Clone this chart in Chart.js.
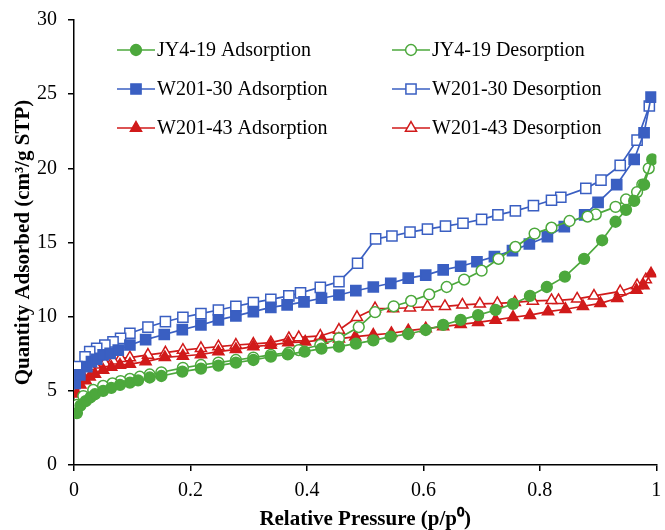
<!DOCTYPE html>
<html>
<head>
<meta charset="utf-8">
<script src="https://cdn.jsdelivr.net/npm/chart.js@4/dist/chart.umd.min.js"></script>
<style>
  html, body { margin: 0; padding: 0; background: #fff; }
  #wrap { width: 665px; height: 530px; position: relative; }
</style>
</head>
<body>
<div id="wrap"><canvas id="c" width="665" height="530"></canvas></div>
<script>
// ---- Data ----
const jyAdsX = [0.005,0.011,0.02,0.028,0.036,0.05,0.064,0.079,0.096,0.11,0.13,0.15,0.186,0.218,0.248,0.278,0.308,0.338,0.367,0.396,0.425,0.455,0.484,0.514,0.544,0.574,0.604,0.634,0.664,0.694,0.724,0.754,0.783,0.812,0.843,0.876,0.907,0.93,0.948,0.962,0.979,0.993];
const jyAdsY = [3.5,4.0,4.3,4.55,4.77,5.0,5.2,5.4,5.55,5.7,5.9,6.0,6.3,6.5,6.7,6.9,7.08,7.3,7.46,7.64,7.84,7.98,8.18,8.4,8.65,8.83,9.1,9.44,9.78,10.1,10.45,10.86,11.4,12.0,12.7,13.9,15.15,16.4,17.2,17.8,18.9,20.6];

const jyDesX = [0.987,0.976,0.967,0.948,0.93,0.896,0.882,0.851,0.82,0.791,0.758,0.729,0.7,0.67,0.64,0.61,0.579,0.549,0.517,0.489,0.455,0.423,0.386,0.369,0.338,0.308,0.278,0.248,0.218,0.187,0.15,0.13,0.113,0.096,0.08,0.066,0.05,0.033,0.016,0.005];
const jyDesY = [20.0,18.9,18.4,17.9,17.4,16.9,16.75,16.45,16.0,15.6,14.7,13.9,13.1,12.5,12.0,11.5,11.06,10.7,10.3,9.3,8.54,8.09,7.75,7.57,7.42,7.24,7.08,6.9,6.74,6.55,6.25,6.1,5.95,5.8,5.66,5.5,5.33,5.06,4.65,4.05];

const wAdsX = [0.002,0.01,0.022,0.03,0.039,0.05,0.062,0.076,0.096,0.123,0.155,0.186,0.218,0.248,0.278,0.308,0.338,0.366,0.395,0.425,0.455,0.484,0.514,0.544,0.574,0.604,0.634,0.664,0.692,0.722,0.753,0.782,0.813,0.842,0.877,0.9,0.932,0.962,0.979,0.991];
const wAdsY = [5.5,6.07,6.63,6.97,7.13,7.42,7.53,7.75,8.09,8.45,8.8,9.13,9.44,9.78,10.05,10.34,10.63,10.8,11.0,11.24,11.46,11.75,12.0,12.25,12.6,12.8,13.15,13.4,13.7,14.05,14.45,14.9,15.4,16.07,16.86,17.7,18.9,20.6,22.4,24.8];

const wDesX = [0.988,0.967,0.938,0.905,0.879,0.836,0.82,0.789,0.758,0.728,0.7,0.668,0.638,0.607,0.577,0.546,0.518,0.487,0.455,0.423,0.389,0.369,0.338,0.308,0.278,0.248,0.218,0.187,0.157,0.127,0.096,0.08,0.067,0.053,0.039,0.027,0.019,0.005];
const wDesY = [24.2,21.9,20.2,19.2,18.65,18.05,17.85,17.48,17.13,16.86,16.56,16.3,16.1,15.9,15.7,15.44,15.25,13.6,12.36,11.98,11.6,11.4,11.17,10.95,10.7,10.45,10.2,9.96,9.66,9.3,8.88,8.54,8.3,8.09,7.87,7.64,7.3,6.63];

const rAdsX = [0.005,0.011,0.02,0.027,0.036,0.05,0.064,0.079,0.096,0.123,0.156,0.187,0.218,0.248,0.278,0.308,0.338,0.368,0.397,0.426,0.455,0.483,0.514,0.545,0.574,0.604,0.634,0.664,0.694,0.724,0.754,0.783,0.814,0.844,0.874,0.904,0.933,0.966,0.978,0.991];
const rAdsY = [4.8,5.4,5.7,5.95,6.13,6.4,6.6,6.74,6.8,6.97,7.26,7.35,7.45,7.64,7.8,7.98,8.09,8.25,8.3,8.43,8.5,8.65,8.77,8.88,9.06,9.2,9.33,9.48,9.62,9.78,9.96,10.1,10.34,10.5,10.7,10.9,11.24,11.8,12.1,12.9];

const rDesX = [0.982,0.967,0.938,0.893,0.864,0.832,0.82,0.788,0.757,0.727,0.697,0.667,0.637,0.607,0.577,0.548,0.517,0.486,0.455,0.423,0.386,0.369,0.338,0.308,0.278,0.248,0.218,0.187,0.157,0.127,0.096,0.08,0.067,0.053,0.036,0.027,0.011];
const rDesY = [12.5,12.1,11.7,11.4,11.2,11.1,11.1,11.06,10.97,10.9,10.86,10.8,10.7,10.67,10.6,10.55,10.55,9.96,9.1,8.7,8.6,8.54,8.25,8.16,8.09,7.98,7.87,7.75,7.57,7.42,7.24,7.2,7.03,6.86,6.75,6.63,5.95];

const seriesNames = ['JY4-19 Adsorption','JY4-19 Desorption','W201-30 Adsorption','W201-30 Desorption','W201-43 Adsorption','W201-43 Desorption'];
const xTicks = [0, 0.2, 0.4, 0.6, 0.8, 1];
const yTicks = [0, 5, 10, 15, 20, 25, 30];
const xTitle = 'Relative Pressure (p/p\u2070)';
const yTitle = 'Quantity Adsorbed (cm\u00B3/g STP)';

// ---- Styles ----
const GREEN = '#4CA83C', BLUE = '#3A5FC2', RED = '#D11A1A';
const FONT = "'Liberation Serif', 'Times New Roman', serif";

function pts(xs, ys) { return xs.map((x, i) => ({ x: x, y: ys[i] })); }

function ds(label, xs, ys, color, style, filled, radius) {
  return {
    label: label,
    data: pts(xs, ys),
    showLine: true,
    borderColor: color,
    borderWidth: 1.7,
    pointStyle: style,
    pointRadius: radius,
    pointHoverRadius: radius,
    pointBorderColor: color,
    pointBorderWidth: 1.5,
    pointBackgroundColor: filled ? color : '#ffffff',
    backgroundColor: filled ? color : '#ffffff',
    tension: 0
  };
}

const datasets = [
  ds(seriesNames[0], jyAdsX, jyAdsY, GREEN, 'circle', true, 5.4),
  ds(seriesNames[1], jyDesX, jyDesY, GREEN, 'circle', false, 5.4),
  ds(seriesNames[2], wAdsX, wAdsY, BLUE, 'rect', true, 7.2),
  ds(seriesNames[3], wDesX, wDesY, BLUE, 'rect', false, 7.2),
  ds(seriesNames[4], rAdsX, rAdsY, RED, 'triangle', true, 6.4),
  ds(seriesNames[5], rDesX, rDesY, RED, 'triangle', false, 6.4)
];

function drawShape(ctx, style, r, x, y) {
  if (style === 'circle') {
    ctx.arc(x, y, r, 0, Math.PI * 2);
  } else if (style === 'rect') {
    const s = Math.SQRT1_2 * r;
    ctx.rect(x - s, y - s, 2 * s, 2 * s);
  } else {
    const w = r * Math.sqrt(3) / 2;
    ctx.moveTo(x, y - r);
    ctx.lineTo(x + w, y + r / 2);
    ctx.lineTo(x - w, y + r / 2);
    ctx.closePath();
  }
}

// ---- Custom in-plot legend (2 columns x 3 rows) ----
const legendPlugin = {
  id: 'inLegend',
  afterDatasetsDraw(chart) {
    const ctx = chart.ctx;
    const cols = [ { cx: 136, tx: 157 }, { cx: 411, tx: 432 } ];
    const rows = [50, 89, 128];
    ctx.save();
    chart.data.datasets.forEach((d, i) => {
      const col = cols[i % 2];
      const y = rows[Math.floor(i / 2)];
      ctx.strokeStyle = d.borderColor;
      ctx.lineWidth = 1.7;
      ctx.beginPath();
      ctx.moveTo(col.cx - 19, y);
      ctx.lineTo(col.cx + 19, y);
      ctx.stroke();
      ctx.fillStyle = d.pointBackgroundColor;
      ctx.strokeStyle = d.pointBorderColor;
      ctx.lineWidth = d.pointBorderWidth;
      ctx.beginPath();
      drawShape(ctx, d.pointStyle, d.pointRadius, col.cx, y);
      ctx.fill();
      ctx.stroke();
      ctx.fillStyle = '#000';
      ctx.font = '20px ' + FONT;
      ctx.textAlign = 'left';
      ctx.textBaseline = 'middle';
      ctx.fillText(d.label, col.tx, y + 1);
    });
    ctx.restore();
  }
};

new Chart(document.getElementById('c'), {
  type: 'scatter',
  data: { datasets: datasets },
  options: {
    responsive: false,
    animation: false,
    devicePixelRatio: 1,
    layout: { padding: { top: 20, right: 3, left: 0, bottom: 0 } },
    plugins: {
      legend: { display: false },
      tooltip: { enabled: false }
    },
    scales: {
      x: {
        type: 'linear',
        min: 0, max: 1,
        afterFit(s) { s.height = 65; s.paddingLeft = 0; s.paddingRight = 0; },
        afterBuildTicks(s) { s.ticks = xTicks.map(v => ({ value: v })); },
        ticks: {
          color: '#000',
          font: { family: FONT, size: 20 },
          padding: 8,
          maxRotation: 0,
          callback: v => String(Number(v.toFixed(1)))
        },
        grid: { display: true, drawOnChartArea: false, drawTicks: true, tickLength: 6, color: '#000', lineWidth: 1.5 },
        border: { display: true, color: '#000', width: 1.5 },
        title: {
          display: true, text: xTitle, color: '#000',
          font: { family: FONT, size: 21, weight: 'bold' },
          padding: { top: 0, bottom: -2 }
        }
      },
      y: {
        type: 'linear',
        min: 0, max: 30,
        afterFit(s) { s.width = 74; s.paddingTop = 0; s.paddingBottom = 0; },
        afterBuildTicks(s) { s.ticks = yTicks.map(v => ({ value: v })); },
        ticks: {
          color: '#000',
          font: { family: FONT, size: 20 },
          padding: 11
        },
        grid: { display: true, drawOnChartArea: false, drawTicks: true, tickLength: 6, color: '#000', lineWidth: 1.5 },
        border: { display: true, color: '#000', width: 1.5 },
        title: {
          display: true, text: yTitle, color: '#000',
          font: { family: FONT, size: 21, weight: 'bold' },
          padding: { top: 11, bottom: 0 }
        }
      }
    }
  },
  plugins: [legendPlugin]
});
</script>
</body>
</html>
